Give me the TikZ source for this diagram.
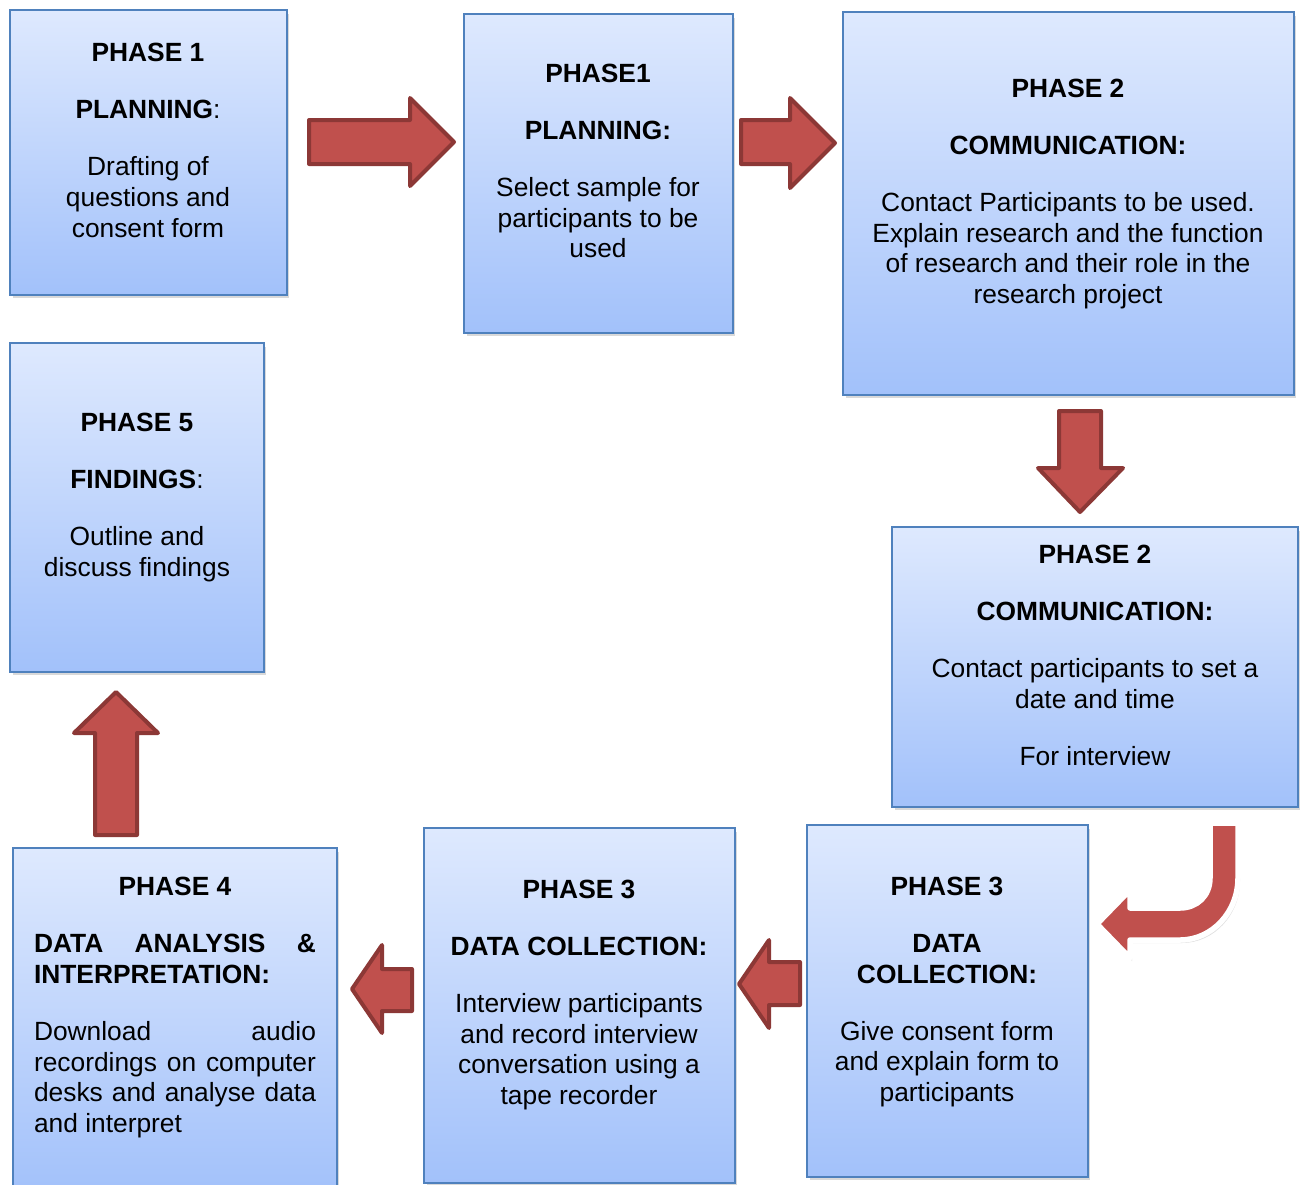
\documentclass[tikz,border=0pt]{standalone}
\usepackage{fontspec}
\setmainfont{Liberation Sans}
\usepackage{tikz}
\usepackage{xcolor}
\usetikzlibrary{shadows}

\definecolor{boxtop}{RGB}{222,233,254}
\definecolor{boxbottom}{RGB}{162,193,250}
\definecolor{boxline}{RGB}{79,129,189}
\definecolor{arrowred}{RGB}{192,80,77}
\definecolor{arrowdark}{RGB}{140,56,54}

\newcommand{\phasefont}{\fontsize{15}{17.6}\selectfont}

\tikzset{
  phasebox/.style={draw=boxline, line width=0.04cm, top color=boxtop, bottom color=boxbottom,
    drop shadow={opacity=0.3, shadow xshift=0.05cm, shadow yshift=-0.07cm}},
  phasetext/.style={align=center, inner sep=0pt, anchor=north, font=\phasefont},
  blockarrow/.style={fill=arrowred, draw=arrowdark, line width=0.08cm, line join=round},
  bentarrow/.style={fill=arrowred, draw=white, line width=0.11cm, line join=round,
    drop shadow={opacity=0.25, shadow xshift=0.04cm, shadow yshift=-0.06cm}}
}

\begin{document}
\begin{tikzpicture}[x=0.02cm, y=-0.02cm]
            \useasboundingbox (0,0) rectangle (1302,1184);
            \clip (0,0) rectangle (1302,1184);

            % Boxes
            \node[phasebox, minimum width=5.54cm, minimum height=5.70cm] (plan1) at (148.5,152.5) {};
            \node[phasebox, minimum width=5.38cm, minimum height=6.38cm] (plan2) at (598.5,173.5) {};
            \node[phasebox, minimum width=9.02cm, minimum height=7.66cm] (comm1) at (1068.5,203.5) {};
            \node[phasebox, minimum width=8.12cm, minimum height=5.60cm] (comm2) at (1095,667) {};
            \node[phasebox, minimum width=5.62cm, minimum height=7.04cm] (coll1) at (947.5,1001) {};
            \node[phasebox, minimum width=6.22cm, minimum height=7.10cm] (coll2) at (579.5,1005.5) {};
            \node[phasebox, minimum width=6.48cm, minimum height=6.94cm] (anal) at (175,1021.5) {};
            \node[phasebox, minimum width=5.08cm, minimum height=6.58cm] (find) at (137,507.5) {};

            % Texts
            \node[phasetext] (plan1txt) at (148,43)
              {\textbf{PHASE 1}\\[14.8pt]\textbf{PLANNING}:\\[14.8pt]Drafting of\\questions and\\consent form};
            \node[phasetext] (plan2txt) at (598,63.5)
              {\textbf{PHASE1}\\[14.8pt]\textbf{PLANNING:}\\[14.8pt]Select sample for\\participants to be\\used};
            \node[phasetext] (comm1txt) at (1068,78.5)
              {\textbf{PHASE 2}\\[14.8pt]\textbf{COMMUNICATION:}\\[14.8pt]Contact Participants to be used.\\Explain research and the function\\of research and their role in the\\research project};
            \node[phasetext] (comm2txt) at (1095,545)
              {\textbf{PHASE 2}\\[14.8pt]\textbf{COMMUNICATION:}\\[14.8pt]Contact participants to set a\\date and time\\[14.8pt]For interview};
            \node[phasetext] (coll1txt) at (947,876.5)
              {\textbf{PHASE 3}\\[14.8pt]\textbf{DATA}\\\textbf{COLLECTION:}\\[14.8pt]Give consent form\\and explain form to\\participants};
            \node[phasetext] (coll2txt) at (579,879.5)
              {\textbf{PHASE 3}\\[14.8pt]\textbf{DATA COLLECTION:}\\[14.8pt]Interview participants\\and record interview\\conversation using a\\tape recorder};
            \node[phasetext] (analtxt) at (175,876.5) {\textbf{PHASE 4}};
            \node[phasetext, align=justify, text width=5.64cm] (analbody) at (175,933.5)
              {\textbf{DATA ANALYSIS \&\linebreak INTERPRETATION:}\par\vskip14.8pt
               Download audio\linebreak recordings on computer\linebreak desks and analyse data\linebreak and interpret};
            \node[phasetext] (findtxt) at (137,412.5)
              {\textbf{PHASE 5}\\[14.8pt]\textbf{FINDINGS}:\\[14.8pt]Outline and\\discuss findings};

            % Block arrows
            \draw[blockarrow] (309,120) -- (410,120) -- (410,98) -- (454,142) -- (410,186) -- (410,164) -- (309,164) -- cycle;
            \draw[blockarrow] (741,120) -- (790,120) -- (790,98) -- (835,143) -- (790,188) -- (790,164) -- (741,164) -- cycle;
            \draw[blockarrow] (1059,411) -- (1101,411) -- (1101,468) -- (1123,468) -- (1080,512) -- (1038,468) -- (1059,468) -- cycle;
            \draw[bentarrow] (1210,823) -- (1238,823) -- (1238,878)
              .. controls (1238,912) and (1212,940) .. (1180,940) -- (1130,940) -- (1130,958) -- (1097,924)
              -- (1130,890) -- (1130,908) -- (1180,908) .. controls (1197,908) and (1210,896) .. (1210,878) -- cycle;
            \draw[blockarrow] (739,984) -- (769,940) -- (769,962) -- (800,962) -- (800,1005) -- (769,1005) -- (769,1028) -- cycle;
            \draw[blockarrow] (352,989) -- (382,945) -- (382,969) -- (412,969) -- (412,1011) -- (382,1011) -- (382,1033) -- cycle;
            \draw[blockarrow] (116,692) -- (158,733) -- (137,733) -- (137,835) -- (95,835) -- (95,733) -- (74,733) -- cycle;
        \end{tikzpicture}
\end{document}
